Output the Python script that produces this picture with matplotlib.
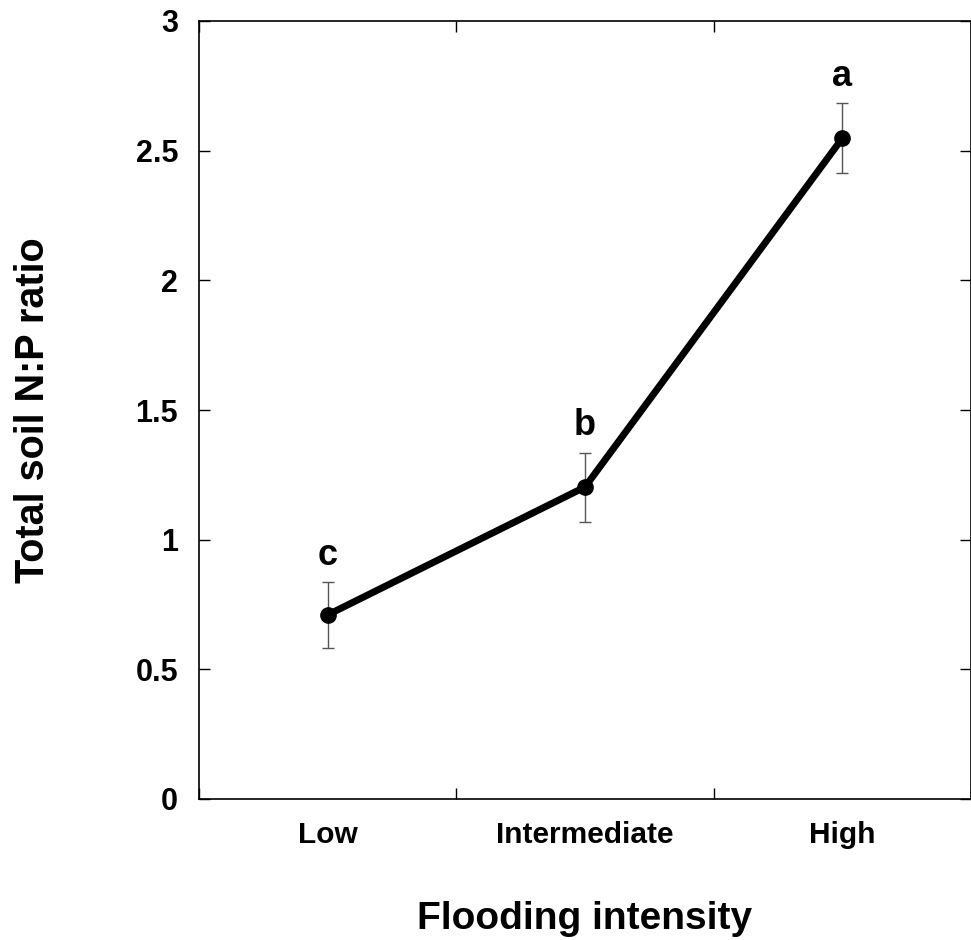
import numpy as np
import matplotlib.pyplot as plt

plt.rcParams['font.family'] = ['Liberation Sans', 'DejaVu Sans']
plt.rcParams['font.weight'] = 'bold'

categories = ['Low', 'Intermediate', 'High']
np_ratio = [0.71, 1.203, 2.548]
np_err = [0.128, 0.133, 0.134]
letters = ['c', 'b', 'a']

x = np.arange(len(categories)) + 0.5

fig = plt.figure(figsize=(9.71, 9.40), dpi=100)
ax = fig.add_axes([199/971, 1 - 799/940, 772/971, 778/940])

ax.errorbar(x, np_ratio, yerr=np_err, fmt='none', ecolor='#555555',
            elinewidth=1.0, capsize=4, capthick=1.0, zorder=2)
ax.plot(x, np_ratio, color='black', lw=5, marker='o', ms=11, zorder=3)

for xi, yi, ei, lab in zip(x, np_ratio, np_err, letters):
    ax.text(xi, yi + ei + 0.035, lab, ha='center', va='bottom',
            fontsize=26, fontweight='bold')

ax.set_xlim(0, 3)
ax.set_ylim(0, 3)
ax.set_xticks([0, 1, 2, 3])
ax.set_xticklabels([])
ax.set_xticks(x, minor=True)
ax.set_xticklabels(categories, minor=True, fontsize=21.5, fontweight='bold')
ax.set_yticks([0, 0.5, 1, 1.5, 2, 2.5, 3])
ax.set_yticklabels(['0', '0.5', '1', '1.5', '2', '2.5', '3'],
                   fontsize=22, fontweight='bold')

ax.tick_params(which='major', direction='in', length=8, width=1,
               top=True, right=True)
ax.tick_params(axis='x', which='minor', length=0, pad=16)
ax.tick_params(axis='y', which='major', pad=15)
for s in ax.spines.values():
    s.set_linewidth(1.2)

ax.set_xlabel('Flooding intensity', fontsize=28, fontweight='bold', labelpad=37)
ax.set_ylabel('Total soil N:P ratio', fontsize=28.5, fontweight='bold', labelpad=60)

fig.savefig('out.png', dpi=100)
